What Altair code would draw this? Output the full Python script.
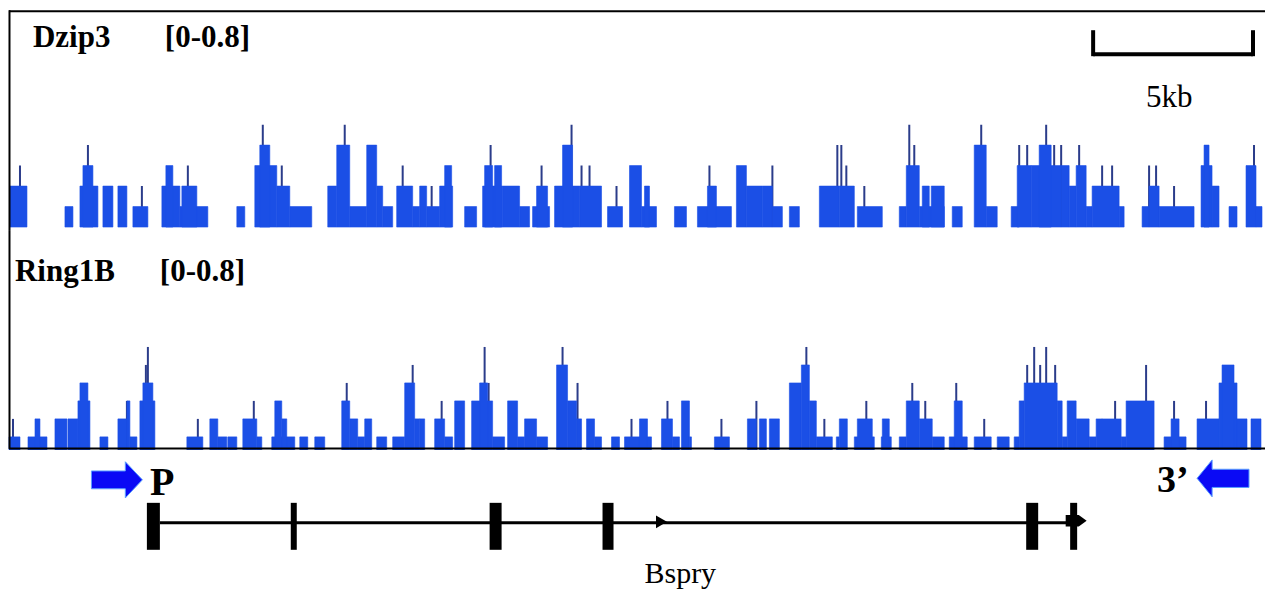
import altair as alt
import pandas as pd

# ---------------- data (locus position units: 160 units = 5 kb) ----------------
top_bar_start = [10, 65, 80, 83, 103, 118, 133, 162, 166, 180, 182, 237, 255, 260, 277, 290,
                 328, 337, 350, 367, 377, 383, 397, 413, 420, 427, 440, 445, 465, 483, 485,
                 495, 503, 520, 533, 537, 555, 563, 580, 608, 630, 642, 645, 675, 698, 708,
                 737, 747, 763, 773, 790, 820, 840, 858, 900, 907, 920, 923, 932, 953, 975,
                 987, 1012, 1018, 1032, 1040, 1062, 1070, 1077, 1087, 1093, 1120, 1143, 1150,
                 1160, 1202, 1205, 1213, 1230, 1247, 1257]
top_bar_end = [27, 73, 98, 93, 113, 127, 148, 180, 173, 208, 197, 245, 277, 270, 290, 312,
               337, 350, 367, 377, 383, 393, 413, 420, 427, 440, 453, 452, 477, 503, 493,
               502, 520, 530, 550, 548, 580, 573, 602, 623, 642, 657, 650, 687, 732, 717,
               747, 763, 773, 783, 800, 840, 855, 883, 907, 920, 945, 930, 945, 963, 987,
               998, 1020, 1032, 1062, 1052, 1070, 1077, 1087, 1093, 1120, 1125, 1150, 1160,
               1195, 1213, 1210, 1220, 1238, 1257, 1263]
top_bar_value = [0.2, 0.1, 0.2, 0.3, 0.2, 0.2, 0.1, 0.2, 0.3, 0.1, 0.2, 0.1, 0.3, 0.4, 0.2, 0.1,
                 0.2, 0.4, 0.1, 0.4, 0.2, 0.1, 0.2, 0.1, 0.2, 0.1, 0.2, 0.3, 0.1, 0.2, 0.3,
                 0.3, 0.2, 0.1, 0.1, 0.2, 0.2, 0.4, 0.2, 0.1, 0.3, 0.1, 0.2, 0.1, 0.1, 0.2,
                 0.3, 0.2, 0.2, 0.1, 0.1, 0.2, 0.2, 0.1, 0.1, 0.3, 0.1, 0.2, 0.2, 0.1, 0.4,
                 0.1, 0.1, 0.3, 0.3, 0.4, 0.3, 0.2, 0.3, 0.1, 0.2, 0.1, 0.1, 0.2,
                 0.1, 0.3, 0.4, 0.2, 0.1, 0.3, 0.1]
top_spike_pos = [20, 88, 142, 188, 263, 282, 345, 403, 432, 491, 542, 572, 582, 590, 617, 648,
                 710, 773, 838, 842, 847, 865, 910, 915, 925, 982, 1020, 1028, 1047, 1055,
                 1062, 1080, 1103, 1113, 1150, 1157, 1175, 1255]
top_spike_value = [0.3, 0.4, 0.2, 0.3, 0.5, 0.3, 0.5, 0.3, 0.2, 0.4, 0.3, 0.5, 0.3, 0.3, 0.2, 0.2,
                   0.3, 0.3, 0.4, 0.4, 0.3, 0.2, 0.5, 0.4, 0.2, 0.5, 0.4, 0.4, 0.5, 0.4,
                   0.4, 0.4, 0.3, 0.3, 0.3, 0.3, 0.2, 0.4]

bot_bar_start = [9, 28, 35, 55, 68, 78, 80, 100, 118, 127, 130, 140, 143, 187, 210, 218, 228,
                 243, 257, 272, 275, 282, 300, 315, 342, 350, 358, 365, 377, 393, 405, 415,
                 420, 435, 445, 455, 472, 480, 493, 508, 518, 525, 537, 557, 568, 577, 587,
                 595, 612, 625, 640, 662, 673, 682, 690, 715, 748, 760, 770, 790, 802, 810,
                 817, 837, 840, 855, 858, 882, 883, 900, 907, 920, 933, 950, 955, 975, 998,
                 1015, 1020, 1025, 1058, 1063, 1068, 1077, 1090, 1097, 1122, 1127, 1165, 1172,
                 1198, 1220, 1223, 1238, 1252]
bot_bar_end = [20, 47, 40, 67, 78, 90, 88, 108, 127, 130, 137, 155, 153, 203, 218, 227, 237,
               257, 262, 295, 282, 287, 308, 325, 350, 358, 365, 372, 387, 405, 415, 420,
               425, 445, 453, 465, 493, 488, 505, 518, 525, 537, 548, 568, 577, 582, 595,
               602, 620, 652, 648, 673, 680, 690, 692, 730, 757, 767, 780, 802, 810, 817,
               833, 840, 848, 875, 873, 892, 890, 907, 920, 933, 945, 968, 963, 992, 1010,
               1020, 1025, 1058, 1063, 1068, 1077, 1090, 1097, 1122, 1127, 1155, 1187, 1180,
               1220, 1238, 1235, 1248, 1262]
bot_bar_value = [0.1, 0.1, 0.2, 0.2, 0.2, 0.3, 0.4, 0.1, 0.2, 0.3, 0.1, 0.3, 0.4, 0.1, 0.2, 0.1, 0.1,
                 0.2, 0.1, 0.1, 0.3, 0.2, 0.1, 0.1, 0.3, 0.2, 0.1, 0.2, 0.1, 0.1, 0.4, 0.2,
                 0.2, 0.2, 0.1, 0.3, 0.3, 0.4, 0.1, 0.3, 0.1, 0.2, 0.1, 0.5, 0.3, 0.2, 0.2,
                 0.1, 0.1, 0.1, 0.2, 0.2, 0.1, 0.3, 0.1, 0.1, 0.2, 0.2, 0.2, 0.4, 0.5, 0.3,
                 0.1, 0.1, 0.2, 0.1, 0.2, 0.1, 0.2, 0.1, 0.3, 0.2, 0.1, 0.1, 0.3, 0.1, 0.1,
                 0.1, 0.3, 0.4, 0.3, 0.1, 0.3, 0.2, 0.1, 0.2, 0.1, 0.3, 0.1, 0.2,
                 0.2, 0.4, 0.5, 0.2, 0.2]
bot_spike_pos = [13, 127, 146, 148, 198, 254, 347, 413, 442, 485, 489, 563, 578, 632, 668, 722,
                 757, 807, 825, 867, 913, 926, 957, 985, 1028, 1035, 1041, 1047, 1056, 1103,
                 1116, 1147, 1175, 1207]
bot_spike_value = [0.2, 0.3, 0.5, 0.6, 0.2, 0.3, 0.4, 0.5, 0.3, 0.6, 0.4, 0.6, 0.4, 0.2, 0.3, 0.2,
                   0.3, 0.6, 0.2, 0.3, 0.4, 0.3, 0.4, 0.2, 0.5, 0.6, 0.5, 0.6, 0.5, 0.2,
                   0.3, 0.5, 0.3, 0.3]

exon_start = [147, 291, 490, 603, 1027, 1071]
exon_end = [160, 297, 502, 614, 1039, 1078]
gene_start, gene_end = 160, 1067
gene_tip = 1077
strand_mark = 662
primer_fwd = 117
primer_rev = 1224
scale_start, scale_kb, units_per_kb = 1094, 5, 32

track_labels = ["Dzip3", "Ring1B"]
range_label = "[0-0.8]"
scale_label = "5kb"
gene_label = "Bspry"
p_label, end_label = "P", "3\u2019"

# ---------------- styling ----------------
W = 1266
BAR = "#1b4fe6"
SPIKE = "#2b3c8a"
FONT = "Liberation Serif"
xs = alt.Scale(domain=[0, W], nice=False, zero=False)
one = pd.DataFrame({"a": [0]})


def track(bar_s, bar_e, bar_v, sp_x, sp_v, ydom, height, label, lab_y, frame):
    bars = pd.DataFrame({"s": bar_s, "e": bar_e, "v": bar_v})
    spikes = pd.DataFrame({"x": sp_x, "v": sp_v})
    ysc = alt.Scale(domain=ydom, nice=False, zero=False)
    sp = alt.Chart(spikes).mark_rule(color=SPIKE, strokeWidth=2, clip=True).encode(
        x=alt.X("x:Q", scale=xs, axis=None),
        y=alt.Y("v:Q", scale=ysc, axis=None),
        y2=alt.datum(0),
    )
    br = alt.Chart(bars).mark_rect(color=BAR, stroke=BAR, strokeWidth=0.6, clip=True).encode(
        x=alt.X("s:Q", scale=xs, axis=None), x2="e:Q",
        y=alt.Y("v:Q", scale=ysc, axis=None), y2=alt.datum(0),
    )
    lab = alt.Chart(one).mark_text(font=FONT, fontWeight="bold", fontSize=31, align="left",
                                   baseline="alphabetic", color="black").encode(
        text=alt.value(label[0]), x=alt.value(label[1]), y=alt.value(lab_y))
    rng = alt.Chart(one).mark_text(font=FONT, fontWeight="bold", fontSize=31, align="left",
                                   baseline="alphabetic", color="black").encode(
        text=alt.value(range_label), x=alt.value(label[2]), y=alt.value(lab_y))
    layers = [sp, br, lab, rng] + frame
    return alt.layer(*layers).properties(width=W, height=height)


def hline(y, x0=9, x1=W, w=2):
    return alt.Chart(one).mark_rule(color="black", strokeWidth=w).encode(
        x=alt.value(x0), x2=alt.value(x1), y=alt.value(y))


def vline(x, y0, y1, w=2):
    return alt.Chart(one).mark_rule(color="black", strokeWidth=w).encode(
        x=alt.value(x), y=alt.value(y0), y2=alt.value(y1))


# scale bar (data driven through x scale)
sb = pd.DataFrame({"s": [scale_start], "e": [scale_start + scale_kb * units_per_kb]})
sbar = alt.Chart(sb).mark_rule(color="black", strokeWidth=4).encode(
    x=alt.X("s:Q", scale=xs, axis=None), x2="e:Q", y=alt.value(54))
sl = alt.Chart(sb).mark_rule(color="black", strokeWidth=4).encode(
    x=alt.X("s:Q", scale=xs, axis=None), y=alt.value(30), y2=alt.value(56))
sr = alt.Chart(sb).mark_rule(color="black", strokeWidth=4).encode(
    x=alt.X("e:Q", scale=xs, axis=None), y=alt.value(30), y2=alt.value(56))
stext = alt.Chart(one).mark_text(font=FONT, fontSize=31, align="left", baseline="alphabetic",
                                 color="black").encode(
    text=alt.value(scale_label), x=alt.value(1147), y=alt.value(107))

top = track(top_bar_start, top_bar_end, top_bar_value, top_spike_pos, top_spike_value,
            [-3 / 205, 227 / 205], 230, (track_labels[0], 33, 165), 47,
            [hline(11), vline(9.5, 10, 230), sbar, sl, sr, stext])
bottom = track(bot_bar_start, bot_bar_end, bot_bar_value, bot_spike_pos, bot_spike_value,
               [5 / 180, 225 / 180], 220, (track_labels[1], 15, 160), 51,
               [hline(218.5), vline(9.5, 0, 219)])

# ---------------- gene model ----------------
ex = pd.DataFrame({"s": exon_start, "e": exon_end})
exons = alt.Chart(ex).mark_rect(color="black").encode(
    x=alt.X("s:Q", scale=xs, axis=None), x2="e:Q", y=alt.value(53), y2=alt.value(100))
gl = pd.DataFrame({"s": [gene_start], "e": [gene_end]})
intron = alt.Chart(gl).mark_rule(color="black", strokeWidth=3).encode(
    x=alt.X("s:Q", scale=xs, axis=None), x2="e:Q", y=alt.value(73))
tip = alt.Chart(pd.DataFrame({"x": [gene_tip]})).mark_point(
    shape="M-1,-0.55 L0.25,-0.55 L1,0 L0.25,0.55 L-1,0.55 Z", filled=True, color="black",
    size=441, opacity=1).encode(x=alt.X("x:Q", scale=xs, axis=None), y=alt.value(71))
mid = alt.Chart(pd.DataFrame({"x": [strand_mark]})).mark_point(
    shape="triangle-right", filled=True, color="black", size=160, opacity=1).encode(
    x=alt.X("x:Q", scale=xs, axis=None), y=alt.value(72))
fwd = alt.Chart(pd.DataFrame({"x": [primer_fwd]})).mark_point(
    shape="M-1,-0.35 L0.33,-0.35 L0.33,-0.71 L1,0 L0.33,0.71 L0.33,0.35 L-1,0.35 Z",
    filled=True, fill="#0a0af5", stroke="#5aa0ff", strokeWidth=1, size=2601, opacity=1).encode(
    x=alt.X("x:Q", scale=xs, axis=None), y=alt.value(30))
rev = alt.Chart(pd.DataFrame({"x": [primer_rev]})).mark_point(
    shape="M1,-0.35 L-0.42,-0.35 L-0.42,-0.71 L-1,0 L-0.42,0.71 L-0.42,0.35 L1,0.35 Z",
    filled=True, fill="#0a0af5", stroke="#5aa0ff", strokeWidth=1, size=2704, opacity=1).encode(
    x=alt.X("x:Q", scale=xs, axis=None), y=alt.value(28.5))


def txt(t, x, y, size, weight="normal"):
    return alt.Chart(one).mark_text(font=FONT, fontSize=size, fontWeight=weight, align="left",
                                    baseline="alphabetic", color="black").encode(
        text=alt.value(t), x=alt.value(x), y=alt.value(y))


gene = alt.layer(intron, exons, mid, tip, fwd, rev,
                 txt(p_label, 150, 45, 40, "bold"), txt(end_label, 1158, 42, 38, "bold"),
                 txt(gene_label, 645, 133, 30)).properties(width=W, height=144)

chart = alt.vconcat(top, bottom, gene, spacing=0, bounds="flush").properties(
    padding=0, background="white").configure_view(stroke=None)

chart.save("out.html", embed_options={"renderer": "svg", "actions": False})
